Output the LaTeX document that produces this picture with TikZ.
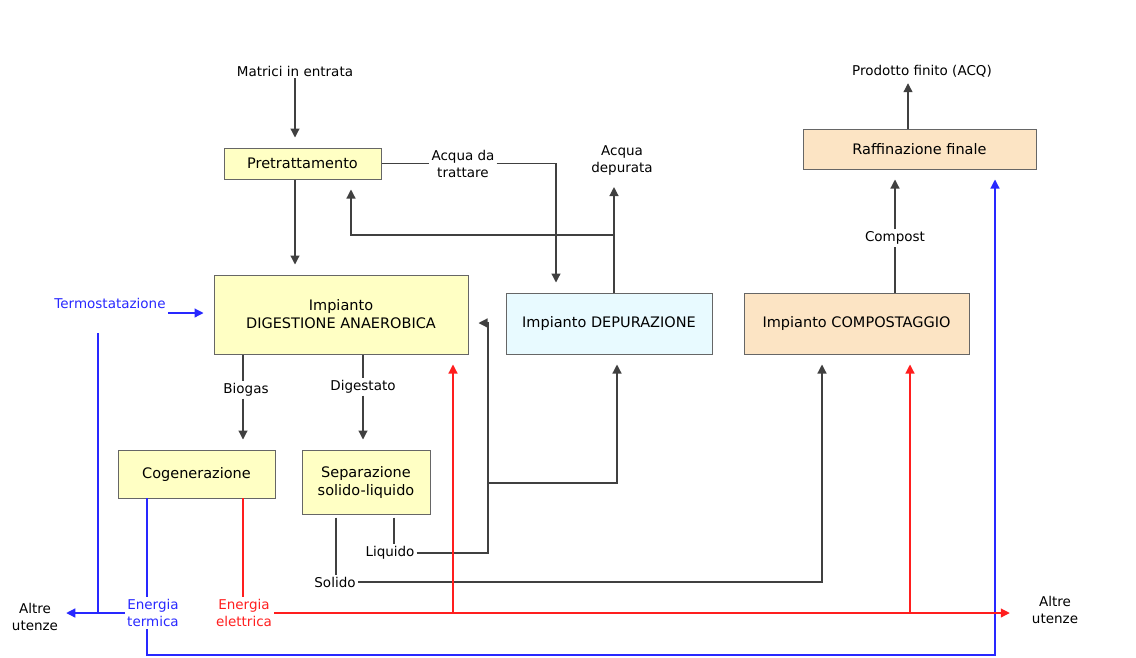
\documentclass[tikz,border=0pt]{standalone}
\usepackage{fontspec}
\setmainfont{DejaVu Sans}
\usetikzlibrary{arrows.meta}

\definecolor{boxyellow}{RGB}{255,255,196}
\definecolor{boxcyan}{RGB}{232,250,255}
\definecolor{boxpeach}{RGB}{252,228,196}
\definecolor{flowblue}{RGB}{40,40,255}
\definecolor{flowred}{RGB}{255,30,30}

\tikzset{
  box/.style={draw=black!60, line width=1pt, align=center, inner sep=2pt,
    font=\fontsize{14.5}{18}\selectfont},
  lbl/.style={align=center, inner sep=2pt, font=\fontsize{13.5}{17}\selectfont},
  line/.style={draw=black!75, line width=1.2pt},
  flow/.style={line, -{Triangle[length=9pt,width=9pt]}, shorten >=10pt},
  bline/.style={draw=flowblue, line width=1.2pt},
  bflow/.style={bline, -{Triangle[length=9pt,width=9pt]}, shorten >=10pt},
  rline/.style={draw=flowred, line width=1.2pt},
  rflow/.style={rline, -{Triangle[length=9pt,width=9pt]}, shorten >=10pt}
}

\begin{document}
\begin{tikzpicture}[x=1pt,y=-1pt]
  \useasboundingbox (0,0) rectangle (1136,657);

  % blocchi
  \node[box, fill=boxyellow, minimum width=157pt, minimum height=31pt] (pre) at (302.5,163.5) {Pretrattamento};
  \node[box, fill=boxyellow, minimum width=254pt, minimum height=79pt] (dig) at (341,314.5) {Impianto\\DIGESTIONE ANAEROBICA};
  \node[box, fill=boxcyan, minimum width=206pt, minimum height=61pt] (dep) at (609,323.5) {Impianto DEPURAZIONE};
  \node[box, fill=boxpeach, minimum width=225pt, minimum height=61pt] (comp) at (856.5,323.5) {Impianto COMPOSTAGGIO};
  \node[box, fill=boxpeach, minimum width=233pt, minimum height=40pt] (raf) at (919.5,149) {Raffinazione finale};
  \node[box, fill=boxyellow, minimum width=157pt, minimum height=48pt] (cog) at (196.5,474) {Cogenerazione};
  \node[box, fill=boxyellow, minimum width=128pt, minimum height=64pt] (sep) at (366,482) {Separazione\\solido-liquido};

  % etichette
  \node[lbl] (matrici) at (295,71) {Matrici in entrata};
  \node[lbl] (acquaT) at (463,164) {Acqua da\\trattare};
  \node[lbl] (acquaD) at (622,160) {Acqua\\depurata};
  \node[lbl] (prodotto) at (922,71) {Prodotto finito (ACQ)};
  \node[lbl] (compost) at (895,238) {Compost};
  \node[lbl, text=flowblue] (termo) at (110,303) {Termostatazione};
  \node[lbl] (biogas) at (246,390) {Biogas};
  \node[lbl] (digestato) at (363,387) {Digestato};
  \node[lbl] (liquido) at (390,553) {Liquido};
  \node[lbl] (solido) at (335,582) {Solido};
  \node[lbl] (altreL) at (35,617) {Altre\\utenze};
  \node[lbl] (altreR) at (1055,610) {Altre\\utenze};
  \node[lbl, text=flowblue] (etermica) at (153,613) {Energia\\termica};
  \node[lbl, text=flowred] (eelettrica) at (244,613) {Energia\\elettrica};

  % punti di snodo
  \coordinate (wsplit) at (614,235);
  \coordinate (ljoint) at (488,483);
  \coordinate (ttop) at (98,333);
  \coordinate (tjoin) at (98,613);
  \coordinate (bcorner) at (995,655);
  \coordinate (r1) at (453,613);
  \coordinate (r2) at (910,613);
  \coordinate (tcol) at (147,498);
  \coordinate (ecol) at (243,498);

  % linea principale
  \draw[flow] (matrici) -- (matrici |- pre.north);
  \draw[flow] (pre.south -| matrici) -- (dig.north -| matrici);
  \draw[line] (pre.east) -- (acquaT.west |- pre.east);
  \draw[flow] (acquaT.east |- pre.east) -| ([xshift=-53pt]dep.north);
  \draw[flow] ([xshift=5pt]dep.north) -- ([xshift=5pt]dep.north |- acquaD.south);
  \draw[flow] (wsplit) -| ([xshift=48.5pt]pre.south);

  \draw[line] (dig.south -| ecol) -- (ecol |- biogas.north);
  \draw[flow] (ecol |- biogas.south) -- (cog.north -| ecol);
  \draw[line] (dig.south -| digestato) -- (digestato.north);
  \draw[flow] (digestato.south) -- (sep.north -| digestato);

  \draw[line, shorten <=3pt] ([xshift=28pt]sep.south) -- ([xshift=28pt]sep.south |- liquido.north);
  \draw[flow] (liquido.east) -| (ljoint) |- ([yshift=-8.5pt]dig.east);
  \draw[flow] (ljoint) -| ([xshift=8pt]dep.south);
  \draw[line, shorten <=3pt] ([xshift=-30pt]sep.south) -- ([xshift=-30pt]sep.south |- solido.north);
  \draw[flow] (solido.east) -| ([xshift=-34.5pt]comp.south);

  \draw[line] ([xshift=38.5pt]comp.north) -- (compost.south);
  \draw[flow] (compost.north) -- (raf.south -| compost);
  \draw[flow, shorten >=4pt] ([xshift=-11.5pt]raf.north) -- ([xshift=-11.5pt]raf.north |- prodotto.south);

  % energia termica
  \draw[bflow] ([yshift=-10pt]termo.east) -- ([yshift=-10pt]termo.east -| dig.west);
  \draw[bline] (tcol) -- (tcol |- etermica.north);
  \draw[bflow, shorten >=6pt] (etermica.west) -- (etermica.west -| altreL.east);
  \draw[bline] (tjoin) -- (ttop);
  \draw[bflow] (tcol |- etermica.south) |- (bcorner) -- (bcorner |- raf.south);

  % energia elettrica
  \draw[rline] (ecol) -- (ecol |- eelettrica.north);
  \draw[rflow, shorten >=20pt] (eelettrica.east) -- (eelettrica.east -| altreR.west);
  \draw[rflow] (r1) -- (r1 |- dig.south);
  \draw[rflow] (r2) -- (r2 |- comp.south);
\end{tikzpicture}
\end{document}
